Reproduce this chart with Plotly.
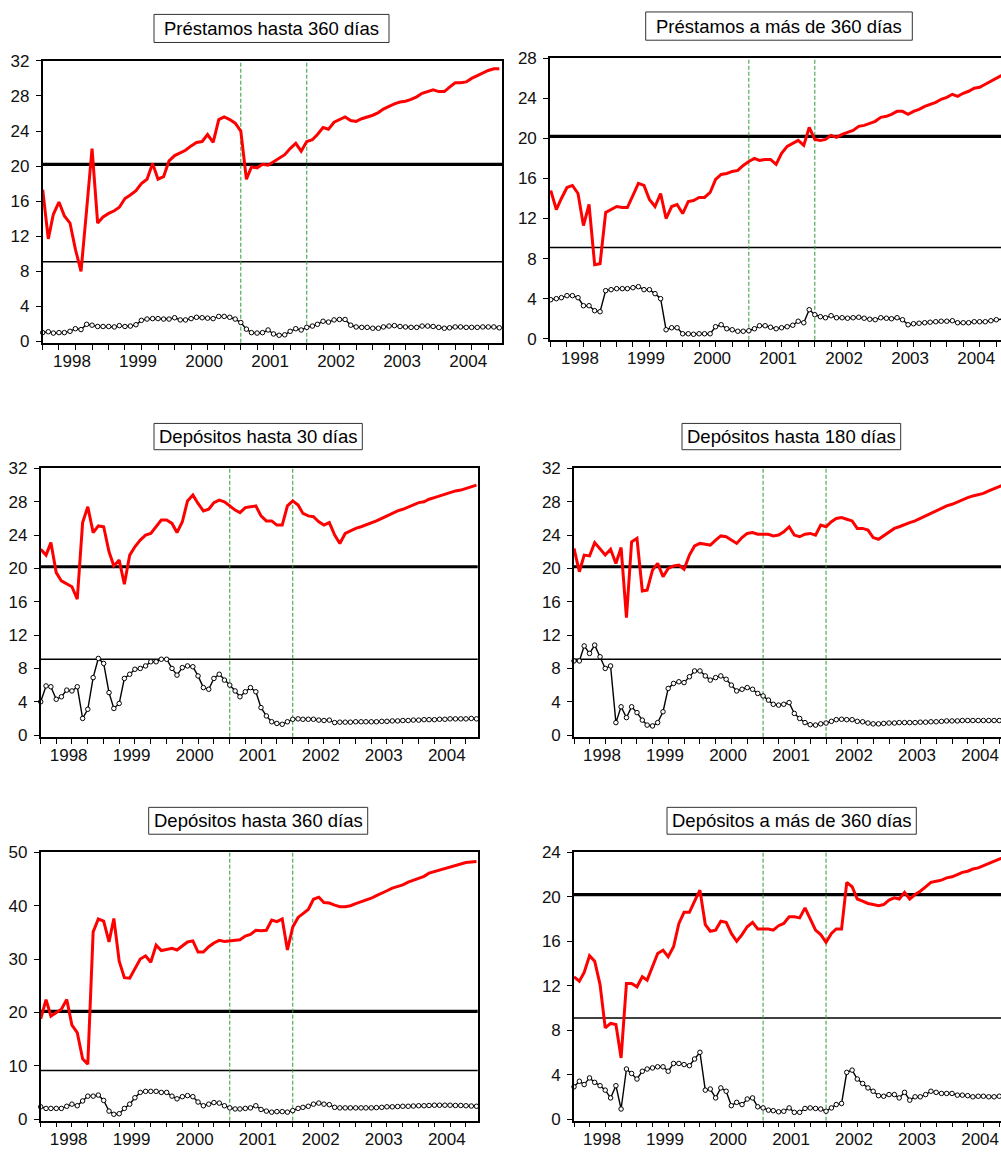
import pandas as pd
import plotly.graph_objects as go
from plotly.subplots import make_subplots

# -------------------------------------------------------------------------------------
# DATA --------------------------------------------------------------------------------
# -------------------------------------------------------------------------------------

months = pd.date_range('1998-01-01', periods=84, freq='MS')
years = ['1998', '1999', '2000', '2001', '2002', '2003', '2004']

titles = ['Préstamos hasta 360 días', 'Préstamos a más de 360 días',
          'Depósitos hasta 30 días', 'Depósitos hasta 180 días',
          'Depósitos hasta 360 días', 'Depósitos a más de 360 días']

# fixed reference levels (thick and thin horizontal lines)
level_thick = 20.2
level_thin = 9.1

# vertical break dates
break_dates = ['2001-01-01', '2002-01-01']

p1_red = [17.3, 11.7, 14.5, 15.9, 14.3, 13.5, 10.5, 8.0, 15.0, 22.0,
          13.5, 14.2, 14.6, 14.9, 15.3, 16.3, 16.7, 17.2, 18.0, 18.5,
          20.3, 18.5, 18.8, 20.6, 21.2, 21.5, 21.8, 22.3, 22.7, 22.8,
          23.6, 22.7, 25.3, 25.6, 25.3, 24.9, 24.0, 18.5, 19.9, 19.8,
          20.2, 20.1, 20.5, 20.9, 21.3, 22.0, 22.6, 21.7, 22.8, 23.0,
          23.6, 24.4, 24.2, 25.0, 25.3, 25.6, 25.2, 25.1, 25.4, 25.6,
          25.8, 26.1, 26.5, 26.8, 27.1, 27.3, 27.4, 27.6, 27.9, 28.3,
          28.5, 28.7, 28.5, 28.5, 29.0, 29.5, 29.5, 29.6, 30.0, 30.3,
          30.6, 30.9, 31.1, 31.1]
p1_black = [1.0, 1.1, 0.95, 1.0, 1.0, 1.15, 1.45, 1.35, 1.95, 1.85,
            1.7, 1.7, 1.7, 1.65, 1.8, 1.7, 1.75, 1.9, 2.4, 2.55,
            2.6, 2.6, 2.55, 2.55, 2.7, 2.45, 2.45, 2.6, 2.75, 2.7,
            2.65, 2.6, 2.85, 2.85, 2.75, 2.55, 2.15, 1.4, 1.0, 0.95,
            1.0, 1.3, 0.85, 0.7, 0.75, 1.15, 1.45, 1.3, 1.6, 1.75,
            1.95, 2.3, 2.2, 2.45, 2.5, 2.5, 1.85, 1.65, 1.6, 1.6,
            1.5, 1.5, 1.65, 1.75, 1.8, 1.7, 1.65, 1.6, 1.6, 1.75,
            1.75, 1.7, 1.6, 1.5, 1.55, 1.65, 1.65, 1.6, 1.6, 1.6,
            1.65, 1.65, 1.65, 1.55]

p2_red = [14.8, 12.9, 14.0, 15.1, 15.3, 14.5, 11.3, 13.4, 7.4, 7.5,
          12.6, 12.9, 13.2, 13.1, 13.1, 14.3, 15.5, 15.3, 13.9, 13.2,
          14.5, 12.0, 13.2, 13.4, 12.5, 13.7, 13.8, 14.1, 14.1, 14.6,
          15.9, 16.4, 16.5, 16.7, 16.8, 17.3, 17.7, 18.0, 17.8, 17.9,
          17.9, 17.4, 18.5, 19.2, 19.5, 19.8, 19.3, 21.1, 19.9, 19.8,
          19.9, 20.3, 20.1, 20.4, 20.6, 20.8, 21.2, 21.3, 21.5, 21.7,
          22.1, 22.2, 22.4, 22.7, 22.7, 22.4, 22.7, 22.9, 23.2, 23.4,
          23.6, 23.9, 24.1, 24.4, 24.2, 24.5, 24.7, 25.0, 25.1, 25.4,
          25.7, 26.0, 26.3, 26.6]
p2_black = [3.9, 4.0, 4.1, 4.3, 4.3, 4.1, 3.3, 3.3, 2.8, 2.7,
            4.8, 4.9, 5.0, 5.0, 5.0, 5.1, 5.2, 4.9, 4.9, 4.5,
            4.0, 0.9, 1.1, 1.1, 0.5, 0.5, 0.45, 0.5, 0.5, 0.5,
            1.2, 1.4, 1.0, 0.9, 0.75, 0.75, 0.8, 1.0, 1.3, 1.3,
            1.15, 1.0, 1.1, 1.2, 1.35, 1.75, 1.6, 2.9, 2.4, 2.2,
            2.1, 2.3, 2.1, 2.1, 2.05, 2.1, 2.15, 2.05, 1.95, 1.9,
            2.1, 2.05, 2.0, 2.1, 1.9, 1.4, 1.5, 1.55, 1.6, 1.65,
            1.7, 1.75, 1.75, 1.8, 1.6, 1.6, 1.6, 1.7, 1.7, 1.7,
            1.8, 1.9, 2.0, 2.05]

p3_red = [22.3, 21.6, 23.1, 19.5, 18.5, 18.1, 17.8, 16.3, 25.5, 27.4,
          24.3, 25.1, 25.0, 22.0, 20.3, 21.0, 18.1, 21.6, 22.6, 23.4,
          24.0, 24.2, 25.0, 25.8, 25.8, 25.4, 24.3, 25.6, 28.1, 28.8,
          27.8, 26.9, 27.1, 27.9, 28.2, 28.0, 27.5, 27.0, 26.7, 27.3,
          27.4, 27.5, 26.3, 25.7, 25.7, 25.2, 25.2, 27.5, 28.1, 27.6,
          26.6, 26.3, 26.2, 25.6, 25.2, 25.5, 24.0, 23.0, 24.2, 24.5,
          24.8, 25.0, 25.2, 25.4, 25.7, 26.0, 26.3, 26.6, 26.9, 27.1,
          27.4, 27.6, 27.9, 28.0, 28.3, 28.5, 28.7, 28.9, 29.1, 29.3,
          29.4, 29.6, 29.8, 30.0]
p3_black = [4.0, 5.9, 5.8, 4.3, 4.6, 5.4, 5.3, 5.8, 2.0, 3.1,
            6.9, 9.2, 8.6, 5.1, 3.2, 3.8, 6.8, 7.3, 7.9, 8.0,
            8.3, 8.8, 8.8, 9.1, 9.1, 8.0, 7.2, 8.1, 8.3, 8.2,
            7.1, 5.7, 5.5, 6.8, 7.3, 6.6, 6.0, 5.3, 4.6, 5.2,
            5.7, 5.2, 3.3, 2.3, 1.6, 1.4, 1.3, 1.6, 1.9, 1.95,
            1.9, 1.9, 1.9, 1.8, 1.75, 1.8, 1.5, 1.55, 1.55, 1.55,
            1.6, 1.6, 1.6, 1.6, 1.6, 1.65, 1.65, 1.7, 1.7, 1.75,
            1.75, 1.8, 1.8, 1.85, 1.85, 1.85, 1.9, 1.9, 1.95, 1.95,
            1.95, 1.95, 2.0, 1.95]

p4_red = [22.4, 19.6, 21.6, 21.5, 23.1, 22.3, 21.6, 22.3, 20.6, 22.5,
          14.1, 23.2, 23.6, 17.3, 17.4, 19.8, 20.6, 19.0, 20.0, 20.3,
          20.4, 19.9, 21.6, 22.7, 23.0, 22.9, 22.8, 23.4, 23.9, 23.8,
          23.4, 23.0, 23.7, 24.2, 24.3, 24.1, 24.1, 24.1, 23.9, 24.0,
          24.4, 25.0, 24.0, 23.8, 24.1, 24.2, 24.0, 25.2, 25.0, 25.6,
          26.0, 26.1, 25.9, 25.7, 24.8, 24.8, 24.6, 23.7, 23.5, 23.9,
          24.4, 24.8, 25.0, 25.3, 25.5, 25.7, 26.0, 26.3, 26.6, 26.9,
          27.2, 27.5, 27.7, 28.0, 28.2, 28.5, 28.7, 28.9, 29.0, 29.3,
          29.6, 29.8, 30.1, 30.3]
p4_black = [8.9, 8.9, 10.7, 9.8, 10.8, 9.4, 8.0, 8.3, 1.5, 3.4,
            2.1, 3.4, 2.7, 1.8, 1.2, 1.1, 1.5, 2.8, 5.6, 6.2,
            6.4, 6.3, 7.0, 7.7, 7.7, 7.1, 6.6, 6.9, 7.1, 6.7,
            6.0, 5.3, 5.5, 5.7, 5.5, 5.0, 4.7, 4.2, 3.7, 3.6,
            3.7, 3.9, 2.6, 2.0, 1.5, 1.25, 1.2, 1.35, 1.45, 1.65,
            1.85, 1.9, 1.85, 1.85, 1.65, 1.6, 1.45, 1.35, 1.35, 1.4,
            1.45, 1.45, 1.5, 1.5, 1.5, 1.5, 1.55, 1.55, 1.6, 1.6,
            1.65, 1.7, 1.7, 1.7, 1.75, 1.75, 1.75, 1.75, 1.75, 1.75,
            1.75, 1.75, 1.8, 1.8]

p5_red = [18.8, 22.4, 19.3, 19.9, 20.6, 22.4, 17.6, 16.2, 11.3, 10.3,
          35.1, 37.5, 37.1, 33.2, 37.6, 29.6, 26.5, 26.4, 28.1, 30.0,
          30.6, 29.4, 32.6, 31.6, 31.8, 32.0, 31.7, 32.4, 33.2, 33.4,
          31.3, 31.3, 32.3, 33.0, 33.5, 33.3, 33.4, 33.6, 33.6, 34.3,
          34.6, 35.4, 35.3, 35.4, 37.3, 37.0, 37.5, 31.7, 36.0, 37.8,
          38.6, 39.3, 41.2, 41.6, 40.6, 40.5, 40.1, 39.8, 39.8, 40.0,
          40.4, 40.7, 41.1, 41.4, 41.9, 42.3, 42.8, 43.3, 43.6, 43.9,
          44.4, 44.8, 45.1, 45.5, 46.1, 46.4, 46.7, 47.0, 47.3, 47.5,
          47.9, 48.1, 48.2, 48.3]
p5_black = [2.3, 2.0, 2.0, 2.0, 2.0, 2.4, 2.8, 2.5, 3.4, 4.3,
            4.3, 4.5, 3.5, 1.5, 0.9, 1.0, 2.0, 2.8, 4.0, 5.0,
            5.2, 5.2, 5.2, 5.0, 5.0, 4.3, 3.8, 4.2, 4.4, 4.2,
            3.2, 2.5, 2.8, 3.1, 3.0, 2.5, 2.1, 1.9, 1.9, 2.0,
            2.1, 2.5, 1.8, 1.5, 1.3, 1.4, 1.4, 1.3, 1.6, 2.0,
            2.2, 2.4, 2.8, 3.0, 2.8, 2.7, 2.2, 2.1, 2.1, 2.1,
            2.1, 2.1, 2.1, 2.1, 2.15, 2.2, 2.3, 2.3, 2.35, 2.4,
            2.4, 2.45, 2.5, 2.5, 2.55, 2.6, 2.6, 2.6, 2.6, 2.55,
            2.55, 2.5, 2.45, 2.4]

p6_red = [12.8, 12.4, 13.2, 14.7, 14.2, 12.1, 8.2, 8.6, 8.5, 5.5,
          12.2, 12.2, 11.9, 12.8, 12.5, 13.7, 14.9, 15.2, 14.6, 15.5,
          17.6, 18.6, 18.6, 19.6, 20.6, 17.5, 16.9, 17.0, 17.8, 17.7,
          16.7, 16.0, 16.6, 17.3, 17.7, 17.1, 17.1, 17.1, 17.0, 17.4,
          17.6, 18.2, 18.2, 18.1, 19.0, 18.0, 17.0, 16.6, 15.9, 16.7,
          17.1, 17.1, 21.3, 20.9, 19.8, 19.6, 19.4, 19.3, 19.2, 19.3,
          19.7, 19.9, 19.8, 20.4, 19.8, 20.2, 20.5, 20.9, 21.3, 21.4,
          21.5, 21.7, 21.8, 22.0, 22.2, 22.3, 22.5, 22.6, 22.8, 23.0,
          23.2, 23.4, 23.6, 23.8]
p6_black = [2.9, 3.4, 3.1, 3.7, 3.3, 3.0, 2.6, 1.9, 3.0, 0.9,
            4.5, 4.1, 3.6, 4.3, 4.5, 4.6, 4.7, 4.7, 4.3, 5.0,
            5.0, 4.9, 4.8, 5.4, 6.0, 2.6, 2.7, 1.9, 2.8, 2.5,
            1.2, 1.5, 1.3, 1.8, 1.9, 1.1, 1.0, 0.8, 0.75, 0.65,
            0.7, 1.0, 0.6, 0.6, 0.95, 1.0, 0.95, 0.9, 0.7, 1.0,
            1.3, 1.4, 4.2, 4.4, 3.6, 3.2, 2.8, 2.5, 2.1, 2.05,
            2.2, 2.2, 1.9, 2.4, 1.7, 2.0, 2.0, 2.2, 2.5, 2.4,
            2.3, 2.3, 2.3, 2.15, 2.15, 2.1, 2.0, 2.05, 2.05, 2.0,
            2.0, 2.05, 2.1, 2.1]

red_series = [p1_red, p2_red, p3_red, p4_red, p5_red, p6_red]
black_series = [p1_black, p2_black, p3_black, p4_black, p5_black, p6_black]

y_max = [32, 28, 32, 32, 50, 24]
y_step = [4, 4, 4, 4, 10, 4]

# -------------------------------------------------------------------------------------
# LAYOUT (pixel geometry of each panel) -----------------------------------------------
# -------------------------------------------------------------------------------------

W, H = 1001, 1154

def px_x(p):
    return p / W

def px_y(p):
    return 1 - p / H

# year labels sit a little before mid-year, between the quarter ticks
year_label_pos = [y + '-06-12' for y in years]

# plot areas: left, right, top, bottom
areas = [(42.7, 502, 52.7, 339), (550, 1001, 50, 336),
         (40.7, 477.7, 466.7, 739.3), (574, 1001, 466.7, 739.3),
         (40.7, 477.7, 856.7, 1129.3), (574, 1001, 856.7, 1129.3)]
x_ranges = [['1998-01-01', '2004-12-16'], ['1997-12-28', '2004-10-27'],
            ['1998-01-01', '2004-12-08'], ['1998-01-01', '2004-10-11'],
            ['1998-01-01', '2004-12-08'], ['1998-01-01', '2004-10-11']]
y_low = [-0.15, -0.1, -0.2, -0.2, -0.3, -0.15]

# title boxes: left, right, top, bottom
boxes = [(154, 389, 5.5, 34), (645.7, 912.3, 3, 31.7),
         (154, 362.3, 421, 447.7), (682, 900.7, 421, 447.7),
         (148.7, 367.7, 811, 838.3), (667, 916.3, 811, 838.3)]

font_fam = 'Liberation Sans, Arial, sans-serif'
green = '#2e9a36'

fig = make_subplots(rows=3, cols=2)

for k in range(6):
    row, col = k // 2 + 1, k % 2 + 1
    fig.add_trace(go.Scatter(x=months, y=red_series[k], mode='lines',
                             line=dict(color='#ff0000', width=3), showlegend=False),
                  row=row, col=col)
    fig.add_trace(go.Scatter(x=months, y=black_series[k], mode='lines+markers',
                             line=dict(color='black', width=1.4),
                             marker=dict(symbol='circle', size=4.5, color='white',
                                         line=dict(color='black', width=1)),
                             cliponaxis=False, showlegend=False),
                  row=row, col=col)

    n = '' if k == 0 else str(k + 1)
    xa, ya = 'xaxis' + n, 'yaxis' + n
    left, right, top, bottom = areas[k]
    fig.update_layout({
        xa: dict(domain=[px_x(left), px_x(right)], type='date', range=x_ranges[k],
                 tickmode='array', tickvals=year_label_pos, ticktext=years,
                 ticks='outside', ticklen=0,
                 minor=dict(tickmode='linear', tick0='1998-01-01', dtick='M3',
                            ticks='outside', ticklen=5, tickwidth=1.4,
                            tickcolor='black', showgrid=False),
                 showgrid=False, zeroline=False, showline=True, linecolor='black',
                 linewidth=1.6, mirror=True, ticklabelstandoff=2,
                 tickfont=dict(family=font_fam, size=17, color='#111')),
        ya: dict(domain=[px_y(bottom), px_y(top)], range=[y_low[k], y_max[k]],
                 tick0=0, dtick=y_step[k], ticks='outside', ticklen=5, tickwidth=1.2,
                 tickcolor='black', showgrid=False, zeroline=False, showline=True,
                 linecolor='black', linewidth=1.6, mirror=(col == 1),
                 ticklabelstandoff=3,
                 tickfont=dict(family=font_fam, size=17, color='#111')),
    })

    xref = 'x' + n
    yref = 'y' + n
    # horizontal reference levels
    fig.add_shape(type='line', xref=xref + ' domain', x0=0, x1=1, yref=yref,
                  y0=level_thick, y1=level_thick, line=dict(color='black', width=3.2),
                  layer='below')
    fig.add_shape(type='line', xref=xref + ' domain', x0=0, x1=1, yref=yref,
                  y0=level_thin, y1=level_thin, line=dict(color='black', width=1.5),
                  layer='below')
    # vertical break lines
    for d in break_dates:
        fig.add_shape(type='line', xref=xref, x0=d, x1=d, yref=yref + ' domain',
                      y0=0, y1=1, line=dict(color=green, width=1, dash='4px,2px'),
                      layer='below')

    # title box
    bl, br, bt, bb = boxes[k]
    fig.add_shape(type='rect', xref='paper', yref='paper', x0=px_x(bl), x1=px_x(br),
                  y0=px_y(bb), y1=px_y(bt), line=dict(color='#333', width=1),
                  fillcolor='white')
    fig.add_annotation(text=titles[k], xref='paper', yref='paper',
                       x=px_x((bl + br) / 2), y=px_y((bt + bb) / 2),
                       xanchor='center', yanchor='middle', showarrow=False,
                       font=dict(family=font_fam, size=18.5, color='black'))

fig.update_layout(width=W, height=H, margin=dict(l=0, r=0, t=0, b=0),
                  paper_bgcolor='white', plot_bgcolor='white', showlegend=False)

# the page's default 8px body margin would push the figure past the window edge
fig.write_html('out.html', config={'displayModeBar': False},
               post_script="document.body.style.margin = '0px';")
